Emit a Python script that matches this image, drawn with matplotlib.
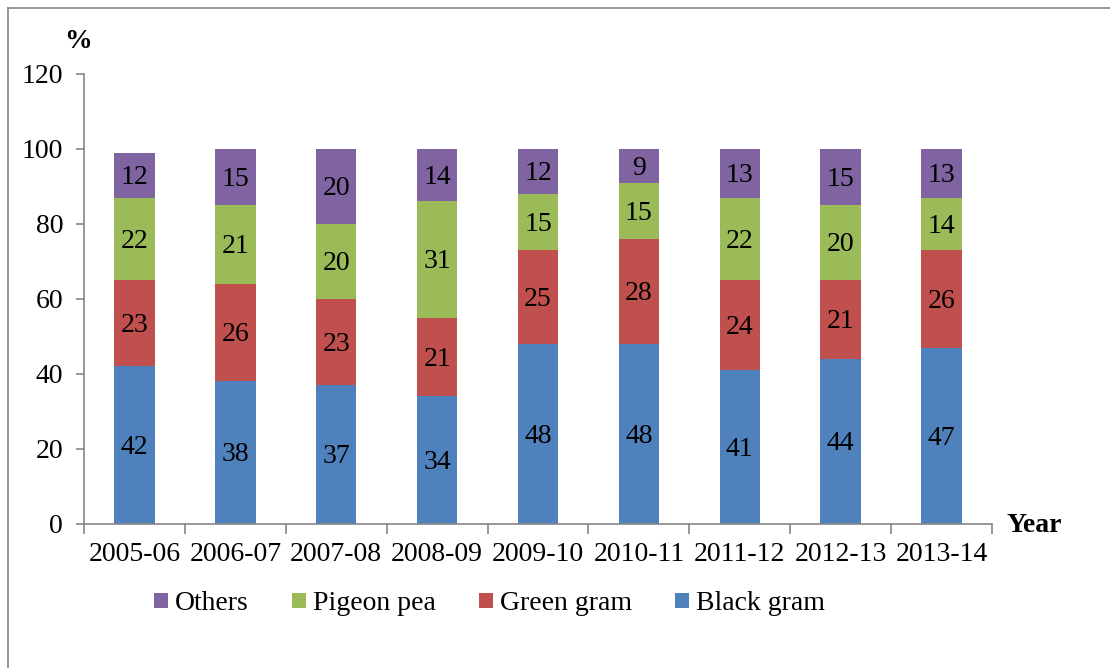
import numpy as np
import matplotlib.pyplot as plt
from matplotlib.lines import Line2D

plt.rcParams['font.family'] = ['Liberation Serif', 'DejaVu Serif']

years = ['2005-06', '2006-07', '2007-08', '2008-09', '2009-10',
         '2010-11', '2011-12', '2012-13', '2013-14']
black_gram = [42, 38, 37, 34, 48, 48, 41, 44, 47]
green_gram = [23, 26, 23, 21, 25, 28, 24, 21, 26]
pigeon_pea = [22, 21, 20, 31, 15, 15, 22, 20, 14]
others = [12, 15, 20, 14, 12, 9, 13, 15, 13]

series = [('Black gram', black_gram, '#4F81BD'),
          ('Green gram', green_gram, '#C0504D'),
          ('Pigeon pea', pigeon_pea, '#9BBB59'),
          ('Others', others, '#8064A2')]

FS = 20
fig = plt.figure(figsize=(11.1, 6.68), dpi=100)
ax = fig.add_axes([0.0757, 0.2156, 0.8180, 0.6737])

x = np.arange(len(years))
bottom = np.zeros(len(years))
bars = {}
for name, vals, col in series:
    vals = np.array(vals, dtype=float)
    bars[name] = ax.bar(x, vals, 0.4, bottom=bottom, color=col, edgecolor='none')
    for xi, b, v in zip(x, bottom, vals):
        ax.text(xi, b + v / 2 - 0.6, f'{int(v)}', ha='center', va='center',
                fontsize=FS, color='black')
    bottom += vals

ax.set_xlim(-0.5, len(years) - 0.5)
ax.set_ylim(0, 120)
ax.set_yticks(range(0, 121, 20))
ax.tick_params(axis='y', labelsize=FS, length=6, color='#868686', width=1.2, pad=9)

# category labels centred, ticks on the category boundaries
ax.set_xticks(x)
ax.set_xticklabels(years, fontsize=FS)
ax.tick_params(axis='x', which='major', length=0, pad=13)
ax.set_xticks(np.arange(-0.5, len(years)), minor=True)
ax.tick_params(axis='x', which='minor', length=7, color='#868686', width=1.2)

for s in ['top', 'right']:
    ax.spines[s].set_visible(False)
for s in ['left', 'bottom']:
    ax.spines[s].set_color('#868686')
    ax.spines[s].set_linewidth(1.2)

fig.text(0.070, 0.938, '%', fontsize=FS, fontweight='bold', ha='center', va='center')
fig.text(0.907, 0.214, 'Year', fontsize=FS, fontweight='bold', ha='left', va='center')

order = ['Others', 'Pigeon pea', 'Green gram', 'Black gram']
fig.legend([bars[n] for n in order], order, loc='center', ncol=4,
           bbox_to_anchor=(0.441, 0.096), frameon=False, fontsize=FS,
           handlelength=0.5, handleheight=0.5, handletextpad=0.25,
           columnspacing=1.55)

# outer chart frame (left and top edges)
fx, fy = 8 / 1110, 1 - 8 / 668
fig.add_artist(Line2D([fx, fx], [0, fy], transform=fig.transFigure,
                      color='#868686', linewidth=1.2))
fig.add_artist(Line2D([fx, 1], [fy, fy], transform=fig.transFigure,
                      color='#868686', linewidth=1.2))

fig.savefig('out.png', dpi=100)
